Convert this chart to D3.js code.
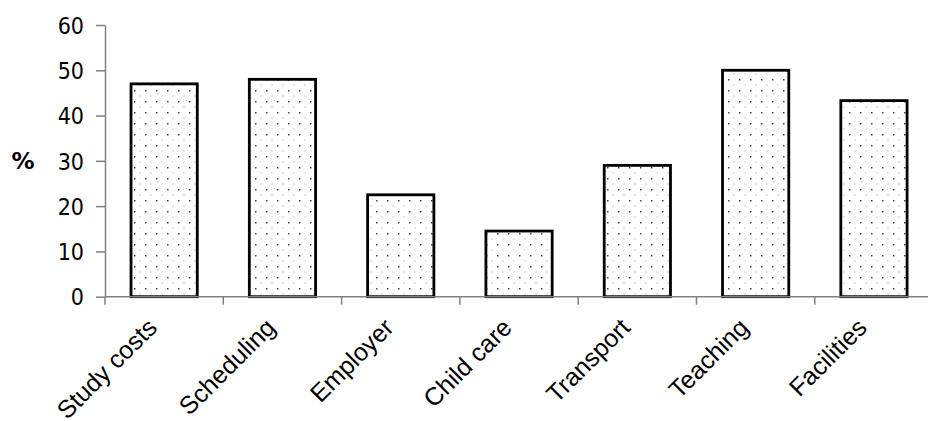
<!DOCTYPE html>
<html><head><meta charset="utf-8">
<script src="https://cdn.jsdelivr.net/npm/d3@7"></script>
<style>body{margin:0;background:#fff}svg{display:block}</style>
</head><body>
<script>
const categories = ["Study costs","Scheduling","Employer","Child care","Transport","Teaching","Facilities"];
const values = [47, 48, 22.5, 14.5, 29, 50, 43.3];
const yTicks = [0,10,20,30,40,50,60];
const yLabel = "%";

const W = 928, H = 421;
const svg = d3.select("body").append("svg").attr("width", W).attr("height", H);

const x0 = 105, y0 = 296.7, yTop = 25, band = 118.3;
const x = d3.scaleBand().domain(categories).range([x0, x0 + band*categories.length]).paddingInner(0.44).paddingOuter(0.22);
const y = d3.scaleLinear().domain([0,60]).range([y0, yTop]);

const defs = svg.append("defs");
const pat = defs.append("pattern").attr("id","dots").attr("patternUnits","userSpaceOnUse")
  .attr("width",11).attr("height",11).attr("x",0).attr("y",0);
pat.append("rect").attr("width",11).attr("height",11).attr("fill","#fff");
pat.append("rect").attr("x",2).attr("y",2).attr("width",1.5).attr("height",1.5).attr("fill","#444");
pat.append("rect").attr("x",7.5).attr("y",7.5).attr("width",1).attr("height",1).attr("fill","#999");

// bars
svg.append("g").selectAll("rect").data(categories).join("rect")
  .attr("x", d => x(d)).attr("width", x.bandwidth())
  .attr("y", (d,i) => y(values[i])).attr("height", (d,i) => y(0) - y(values[i]))
  .attr("fill","url(#dots)").attr("stroke","#000").attr("stroke-width",2.8);

// x axis line
const axisColor = "#808080";
svg.append("line").attr("x1", x0).attr("x2", W).attr("y1", y0).attr("y2", y0)
  .attr("stroke", axisColor).attr("stroke-width",1.5);
// x ticks at band boundaries
const bounds = d3.range(categories.length).map(i => x0 + i*band);
svg.append("g").selectAll("line").data(bounds).join("line")
  .attr("x1", d=>d).attr("x2", d=>d).attr("y1", y0).attr("y2", y0+8)
  .attr("stroke", axisColor).attr("stroke-width",1.5);

// y axis
const yAxis = d3.axisLeft(y).tickValues(yTicks).tickSize(9).tickPadding(12).tickSizeOuter(0);
const gy = svg.append("g").attr("transform",`translate(${x0},0)`).call(yAxis);
gy.select(".domain").attr("stroke", axisColor).attr("stroke-width",1.5);
gy.selectAll(".tick line").attr("stroke", axisColor).attr("stroke-width",1.5);
gy.selectAll(".tick text").attr("fill","#000").style("font-family","DejaVu Sans").style("font-stretch","condensed")
  .style("font-size","23px").attr("dy","0.36em");

// category labels
svg.append("g").selectAll("text").data(categories).join("text")
  .attr("transform", d => `translate(${x(d)+x.bandwidth()/2-18},${y0+20}) rotate(-45)`)
  .attr("text-anchor","end").attr("dy","0.7em")
  .style("font-family","Liberation Sans, Arial, sans-serif").style("font-size","25px").attr("fill","#000")
  .text(d => d);

// % label
svg.append("text").attr("x",23).attr("y",y(30)).attr("dy","0.36em").attr("text-anchor","middle")
  .style("font-family","DejaVu Sans").attr("font-weight","bold").style("font-size","23px").text(yLabel);
</script>
</body></html>
